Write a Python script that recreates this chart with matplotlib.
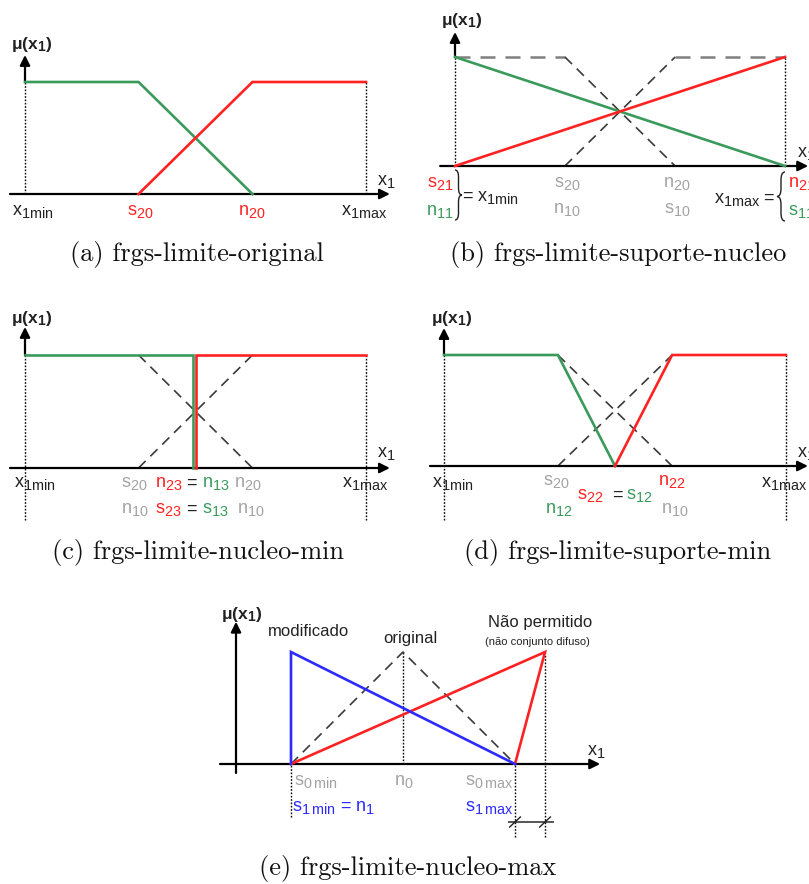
import matplotlib
matplotlib.use('Agg')
import matplotlib.pyplot as plt
import matplotlib.transforms as mtransforms
import matplotlib._mathtext as mathtext_impl
from matplotlib.path import Path
from matplotlib.patches import PathPatch

plt.rcParams['font.family'] = ['Liberation Sans', 'DejaVu Sans']
plt.rcParams['mathtext.default'] = 'regular'
# the subscripts in the drawing are larger than mathtext's default 0.7
mathtext_impl.SHRINK_FACTOR = 0.8

W, H = 809, 884
GREEN = '#3a9a5c'
RED = '#ff2222'
BLUE = '#2b2bff'
GRAY = '#a3a3a3'
INK = '#222222'
LBL = 13

# membership functions, x in units of the universe (x1min=0, x1max=1), y = mu
# (a) original sets
a_green_x = [0.0, 0.333, 0.667]
a_green_y = [1, 1, 0]
a_red_x = [0.333, 0.667, 1.0]
a_red_y = [0, 1, 1]

# (b) support/core pushed to the limits
b_green_x = [0.0, 1.0]
b_green_y = [1, 0]
b_red_x = [0.0, 1.0]
b_red_y = [0, 1]

# original sets, dashed, shared by (b), (c), (d)
orig_left_x = [0.0, 0.333, 0.667]
orig_left_y = [1, 1, 0]
orig_right_x = [0.333, 0.667, 1.0]
orig_right_y = [0, 1, 1]

# (c) core minimum
c_green_x = [0.0, 0.493, 0.493]
c_green_y = [1, 1, 0]
c_red_x = [0.502, 0.502, 1.0]
c_red_y = [0, 1, 1]

# (d) support minimum
d_green_x = [0.0, 0.333, 0.5]
d_green_y = [1, 1, 0]
d_red_x = [0.5, 0.667, 1.0]
d_red_y = [0, 1, 1]

# (e) core maximum, x in units where s0min=0, s0max=1
e_orig_x = [0.0, 0.5, 1.0]
e_orig_y = [0, 1, 0]
e_blue_x = [0.0, 0.0, 1.0]
e_blue_y = [0, 1, 0]
e_red_x = [0.0, 1.134, 1.0]
e_red_y = [0, 1, 0]

fig = plt.figure(figsize=(W / 100, H / 100), dpi=100)
PX = mtransforms.Affine2D().scale(1 / W, -1 / H).translate(0, 1) + fig.transFigure


def panel(x0, base, sx, sy):
    # full-figure axes, data (0,0) at pixel (x0, base), sx/sy pixels per unit
    ax = fig.add_axes([0, 0, 1, 1])
    ax.set_xlim(-x0 / sx, (W - x0) / sx)
    ax.set_ylim((base - H) / sy, base / sy)
    ax.axis('off')
    ax.patch.set_alpha(0)
    return ax


def arrow(ax, x0, y0, x1, y1):
    ax.annotate('', xy=(x1, y1), xytext=(x0, y0),
                arrowprops=dict(arrowstyle='-|>', lw=1.6, color='k',
                                mutation_scale=15, shrinkA=0, shrinkB=0))


def dotted(ax, x, y0, y1):
    ax.plot([x, x], [y0, y1], color='k', lw=1.0, ls=(0, (1.2, 1.2)), zorder=1)


def dashed(ax, xs, ys, c='#3a3a3a', lw=1.2):
    ax.plot(xs, ys, color=c, lw=lw, dashes=(6, 4), zorder=2)


def solid(ax, xs, ys, c):
    ax.plot(xs, ys, color=c, lw=1.9, zorder=3, solid_joinstyle='miter')


def lab(x, y, s, c=INK, ha='left', size=LBL, **kw):
    fig.text(x, y, s, color=c, ha=ha, va='center', fontsize=size, transform=PX, **kw)


def brace(x, y0, y1, w):
    ym = (y0 + y1) / 2
    r = abs(w) * 2
    verts = [(x, y0), (x + w, y0), (x + w, y0 + r), (x + w, ym - r),
             (x + w, ym), (x + 2 * w, ym), (x + w, ym), (x + w, ym + r),
             (x + w, y1 - r), (x + w, y1), (x, y1)]
    codes = [Path.MOVETO, Path.CURVE3, Path.CURVE3, Path.LINETO,
             Path.CURVE3, Path.CURVE3, Path.CURVE3, Path.CURVE3,
             Path.LINETO, Path.CURVE3, Path.CURVE3]
    fig.patches.append(PathPatch(Path(verts, codes), transform=PX, fill=False,
                                 lw=1.0, edgecolor=INK))


def mu(x, y):
    lab(x, y, r'μ(x$_1$)', ha='left', size=12.5, fontweight='bold')


# ---------------- (a) ----------------
ax = panel(25, 194, 341, 112)
arrow(ax, -0.044, 0, 1.070, 0)
arrow(ax, 0, 1, 0, 1.241)
dotted(ax, 0, 0, 1)
dotted(ax, 1, 0, 1)
solid(ax, a_green_x, a_green_y, GREEN)
solid(ax, a_red_x, a_red_y, RED)
mu(11, 45)
lab(377, 181, r'x$_1$')
lab(12, 212, r'x$_{1min}$')
lab(140, 212, r's$_{20}$', RED, ha='center')
lab(252, 212, r'n$_{20}$', RED, ha='center')
lab(341, 212, r'x$_{1max}$')

# ---------------- (b) ----------------
ax = panel(455, 166, 330, 109)
arrow(ax, -0.045, 0, 1.07, 0)
arrow(ax, 0, 1, 0, 1.229)
dotted(ax, 0, 0, 1)
dotted(ax, 1, 0, 1)
dashed(ax, orig_left_x[:2], orig_left_y[:2], '#808080', 1.8)
dashed(ax, orig_right_x[1:], orig_right_y[1:], '#808080', 1.8)
dashed(ax, orig_left_x[1:], orig_left_y[1:])
dashed(ax, orig_right_x[:2], orig_right_y[:2])
solid(ax, b_green_x, b_green_y, GREEN)
solid(ax, b_red_x, b_red_y, RED)
mu(441, 20)
lab(797, 153, r'x$_1$')
lab(440, 183, r's$_{21}$', RED, ha='center')
lab(440, 211, r'n$_{11}$', GREEN, ha='center')
brace(455, 170, 220, 3.5)
lab(462, 198, r'= x$_{1min}$')
lab(567, 183, r's$_{20}$', GRAY, ha='center')
lab(567, 209, r'n$_{10}$', GRAY, ha='center')
lab(677, 183, r'n$_{20}$', GRAY, ha='center')
lab(677, 209, r's$_{10}$', GRAY, ha='center')
lab(776, 199, r'x$_{1max}$ =', ha='right')
brace(785, 172, 221, -4)
lab(788, 183, r'n$_{21}$', RED)
lab(788, 211, r's$_{11}$', GREEN)

# ---------------- (c) ----------------
ax = panel(25, 468, 341, 113)
arrow(ax, -0.044, 0, 1.070, 0)
arrow(ax, 0, 1, 0, 1.248)
dotted(ax, 0, -0.46, 1)
dotted(ax, 1, -0.46, 1)
dashed(ax, orig_left_x[1:], orig_left_y[1:])
dashed(ax, orig_right_x[:2], orig_right_y[:2])
solid(ax, c_green_x, c_green_y, GREEN)
solid(ax, c_red_x, c_red_y, RED)
mu(11, 318)
lab(377, 454, r'x$_1$')
lab(14, 484, r'x$_{1min}$')
lab(342, 484, r'x$_{1max}$')
lab(121, 483, r's$_{20}$', GRAY)
lab(155, 483, r'n$_{23}$', RED)
lab(186, 483, '=')
lab(202, 483, r'n$_{13}$', GREEN)
lab(234, 483, r'n$_{20}$', GRAY)
lab(121, 509, r'n$_{10}$', GRAY)
lab(155, 509, r's$_{23}$', RED)
lab(186, 509, '=')
lab(202, 509, r's$_{13}$', GREEN)
lab(237, 509, r'n$_{10}$', GRAY)

# ---------------- (d) ----------------
ax = panel(444, 466, 342, 111)
arrow(ax, -0.041, 0, 1.064, 0)
arrow(ax, 0, 1, 0, 1.243)
dotted(ax, 0, -0.486, 1)
dotted(ax, 1, -0.486, 1)
dashed(ax, orig_left_x[1:], orig_left_y[1:])
dashed(ax, orig_right_x[:2], orig_right_y[:2])
solid(ax, d_green_x, d_green_y, GREEN)
solid(ax, d_red_x, d_red_y, RED)
mu(431, 318)
lab(797, 454, r'x$_1$')
lab(432, 483, r'x$_{1min}$')
lab(761, 483, r'x$_{1max}$')
lab(543, 482, r's$_{20}$', GRAY)
lab(658, 482, r'n$_{22}$', RED)
lab(577, 495, r's$_{22}$', RED)
lab(612, 495, '=')
lab(626, 495, r's$_{12}$', GREEN)
lab(545, 509, r'n$_{12}$', GREEN)
lab(661, 509, r'n$_{10}$', GRAY)

# ---------------- (e) ----------------
ax = panel(291, 764, 224, 112)
arrow(ax, -0.317, 0, 1.38, 0)
arrow(ax, -0.2455, -0.08, -0.2455, 1.27)
dotted(ax, 0.5, 0, 1)
dotted(ax, 0, -0.473, 0)
dotted(ax, 1.0, -0.652, 0)
dotted(ax, e_red_x[1], -0.652, 1)
dashed(ax, e_orig_x, e_orig_y)
solid(ax, e_red_x, e_red_y, RED)
solid(ax, e_blue_x, e_blue_y, BLUE)
dim_y = -0.518
ax.plot([0.975, 1.17], [dim_y, dim_y], color='#555555', lw=1.4, zorder=2)
for xd in (1.0, e_red_x[1]):
    ax.plot([xd - 0.024, xd + 0.024], [dim_y - 0.045, dim_y + 0.045], color=INK, lw=1.0, zorder=3)
mu(221, 615)
lab(268, 632, 'modificado', size=12)
lab(383, 638, 'original', size=12)
lab(488, 623, 'Não permitido', size=12)
lab(537, 642, '(não conjunto difuso)', ha='center', size=8)
lab(587, 751, r'x$_1$')
lab(294, 782, r's$_{0\,min}$', GRAY)
lab(394, 782, r'n$_0$', GRAY)
lab(465, 782, r's$_{0\,max}$', GRAY)
lab(292, 808, r's$_{1\,min}$ = n$_1$', BLUE)
lab(465, 808, r's$_{1\,max}$', BLUE)

# ---------------- captions ----------------
caps = ['(a) frgs-limite-original', '(b) frgs-limite-suporte-nucleo',
        '(c) frgs-limite-nucleo-min', '(d) frgs-limite-suporte-min',
        '(e) frgs-limite-nucleo-max']
cap_pos = [(197, 254), (618, 254), (198, 552), (618, 552), (408, 869)]
for s, (cx, cy) in zip(caps, cap_pos):
    fig.text(cx, cy, s, ha='center', va='center', fontsize=19, family='cmr10',
             color='#111111', transform=PX)

fig.savefig('out.png', dpi=100)
